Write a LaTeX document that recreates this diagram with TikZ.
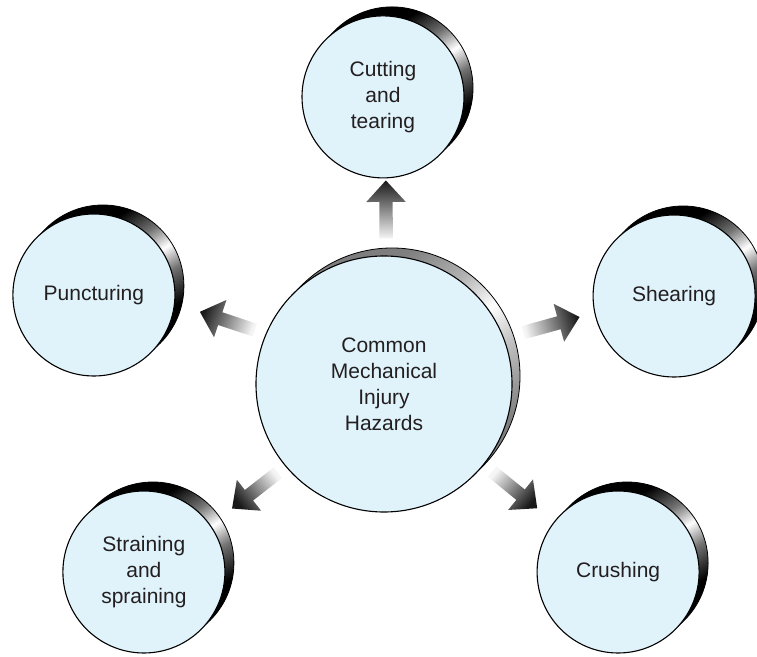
\documentclass[tikz,border=0pt]{standalone}
\usepackage{fontspec}
\setmainfont{Liberation Sans}
\usetikzlibrary{positioning,shapes.arrows,shadows}
\definecolor{facefill}{RGB}{224,243,251}
\definecolor{inkgray}{RGB}{35,31,32}
\pgfdeclareverticalshading{rimdark}{100bp}{color(0bp)=(black); color(33bp)=(black); color(43bp)=(black!55); color(50bp)=(white); color(57bp)=(black!55); color(66bp)=(black); color(100bp)=(black)}
\pgfdeclareverticalshading{rimlight}{100bp}{color(0bp)=(black!60); color(30bp)=(black!50); color(42bp)=(black!25); color(50bp)=(white); color(58bp)=(black!30); color(68bp)=(black!50); color(100bp)=(black!55)}
\tikzstyle{disc} = [circle, draw=black, line width=1.1pt, fill=facefill, inner sep=0pt, align=center, text=inkgray, font=\fontsize{21}{26}\selectfont]
\tikzstyle{hazard} = [disc, minimum size=162pt, general shadow={shadow xshift=9pt, shadow yshift=9pt, draw=black, line width=.8pt, shading=rimdark, shading angle=32}]
\tikzstyle{hub} = [disc, minimum size=256pt, general shadow={shadow xshift=8pt, shadow yshift=8pt, draw=black, line width=.8pt, shading=rimlight, shading angle=35}]
\tikzstyle{hazardarrow} = [single arrow, draw=none, inner sep=6.5pt, minimum height=58pt, single arrow head extend=13pt, single arrow tip angle=85, sloped, allow upside down, top color=black!4, bottom color=black!90]

\begin{document}
\begin{tikzpicture}[x=1pt,y=1pt]
\useasboundingbox (0,0) rectangle (757,656);

\node[hub] (hub) at (384,272) {Common\\Mechanical\\Injury\\Hazards};
\node[hazard,above=77pt of hub,xshift=-1pt] (cutting) {Cutting\\and\\tearing};
\node[hazard,left=80pt of hub,yshift=89pt] (puncturing) {Puncturing};
\node[hazard,right=80pt of hub,yshift=88pt] (shearing) {Shearing};
\node[hazard,left=30pt of hub,yshift=-188pt] (straining) {Straining\\and\\spraining};
\node[hazard,right=24pt of hub,yshift=-188pt] (crushing) {Crushing};

% arrows out of the hub, shading turned to point light->dark along each
\path (hub.89) -- (cutting.-88) node[hazardarrow,pos=.55,shading angle=180] {};
\path (hub.157) -- (puncturing.-6) node[hazardarrow,pos=.384,shading angle=250] {};
\path (hub.21) -- (shearing.192) node[hazardarrow,pos=.488,shading angle=105] {};
\path (hub.220) -- (straining.35) node[hazardarrow,pos=.371,shading angle=308] {};
\path (hub.-39) -- (crushing.142) node[hazardarrow,pos=.40,shading angle=50] {};
\end{tikzpicture}
\end{document}
